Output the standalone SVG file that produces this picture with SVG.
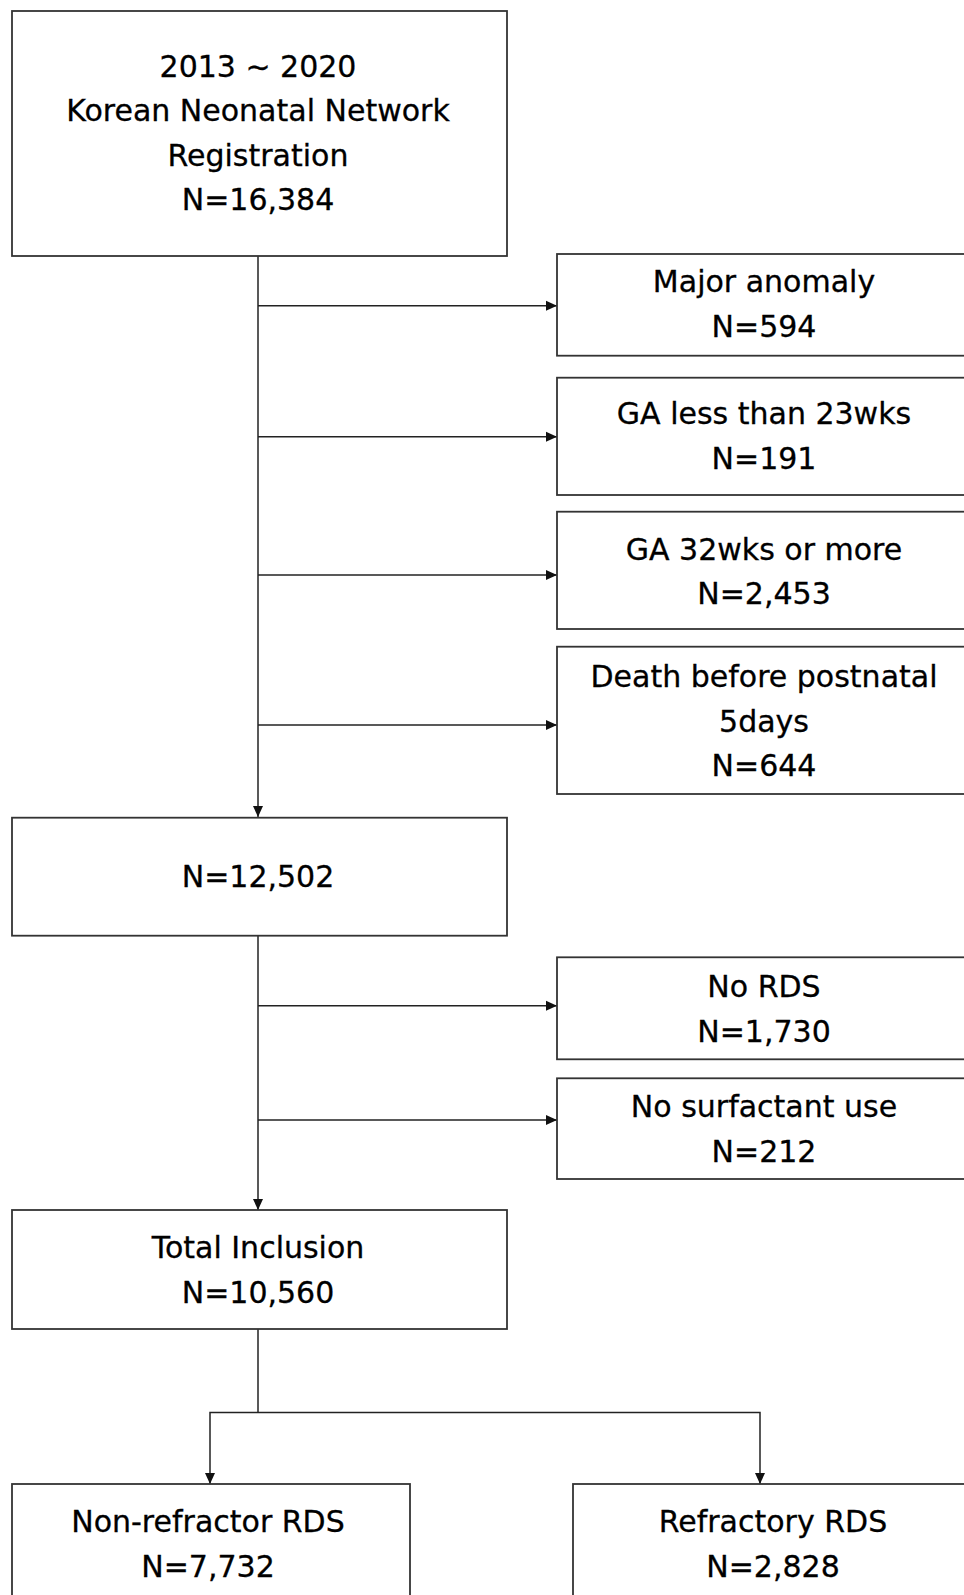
<svg xmlns="http://www.w3.org/2000/svg" width="964" height="1595" viewBox="0 0 964 1595">
<style>
.box{fill:#fff;stroke:#333;stroke-width:1.8}
.t{font-family:"DejaVu Sans","Liberation Sans",sans-serif;font-size:30px;fill:#000;text-anchor:middle;stroke:#000;stroke-width:0.3}
.ln{fill:none;stroke:#222;stroke-width:1.5}
</style>
<defs>
<marker id="ah" markerUnits="userSpaceOnUse" markerWidth="11" markerHeight="11" refX="11" refY="5.5" orient="auto">
<path d="M0,0.5 L11,5.5 L0,10.5 z" fill="#111"/>
</marker>
</defs>
<rect width="964" height="1595" fill="#fff"/>
<g id="connectors">
<path class="ln" d="M258,256 V817" marker-end="url(#ah)"/>
<path class="ln" d="M258,305.7 H557" marker-end="url(#ah)"/>
<path class="ln" d="M258,436.7 H557" marker-end="url(#ah)"/>
<path class="ln" d="M258,575 H557" marker-end="url(#ah)"/>
<path class="ln" d="M258,725 H557" marker-end="url(#ah)"/>
<path class="ln" d="M258,936 V1210" marker-end="url(#ah)"/>
<path class="ln" d="M258,1005.7 H557" marker-end="url(#ah)"/>
<path class="ln" d="M258,1120 H557" marker-end="url(#ah)"/>
<path class="ln" d="M258,1329 V1412.5"/>
<path class="ln" d="M210,1430 V1412.5 H760 V1430"/>
<path class="ln" d="M210,1430 V1484" marker-end="url(#ah)"/>
<path class="ln" d="M760,1430 V1484" marker-end="url(#ah)"/>
</g>
<g id="n_registry">
<rect class="box" x="12" y="11" width="495" height="245"/>
<text class="t" x="258"><tspan x="258" y="77">2013 ~ 2020</tspan><tspan x="258" y="121">Korean Neonatal Network</tspan><tspan x="258" y="166">Registration</tspan><tspan x="258" y="210">N=16,384</tspan></text>
</g>
<g id="n_anomaly">
<rect class="box" x="557" y="254" width="414" height="101.7"/>
<text class="t"><tspan x="764" y="291.7">Major anomaly</tspan><tspan x="764" y="337.3">N=594</tspan></text>
</g>
<g id="n_ga23">
<rect class="box" x="557" y="377.7" width="414" height="117.3"/>
<text class="t"><tspan x="764" y="424.3">GA less than 23wks</tspan><tspan x="764" y="469.3">N=191</tspan></text>
</g>
<g id="n_ga32">
<rect class="box" x="557" y="511.7" width="414" height="117.3"/>
<text class="t"><tspan x="764" y="560">GA 32wks or more</tspan><tspan x="764" y="604">N=2,453</tspan></text>
</g>
<g id="n_death">
<rect class="box" x="557" y="646.7" width="414" height="147.3"/>
<text class="t"><tspan x="764" y="686.7">Death before postnatal</tspan><tspan x="764" y="731.7">5days</tspan><tspan x="764" y="776">N=644</tspan></text>
</g>
<g id="n_12502">
<rect class="box" x="12" y="817.7" width="495" height="118"/>
<text class="t" x="258" y="887.3">N=12,502</text>
</g>
<g id="n_nords">
<rect class="box" x="557" y="957.3" width="414" height="102"/>
<text class="t"><tspan x="764" y="997.3">No RDS</tspan><tspan x="764" y="1041.7">N=1,730</tspan></text>
</g>
<g id="n_nosurf">
<rect class="box" x="557" y="1078.3" width="414" height="100.7"/>
<text class="t"><tspan x="764" y="1116.7">No surfactant use</tspan><tspan x="764" y="1161.7">N=212</tspan></text>
</g>
<g id="n_total">
<rect class="box" x="12" y="1210" width="495" height="119"/>
<text class="t"><tspan x="258" y="1258.3">Total Inclusion</tspan><tspan x="258" y="1303.3">N=10,560</tspan></text>
</g>
<g id="n_nonref">
<rect class="box" x="12" y="1484" width="398" height="130"/>
<text class="t"><tspan x="208" y="1531.7">Non-refractor RDS</tspan><tspan x="208" y="1576.7">N=7,732</tspan></text>
</g>
<g id="n_ref">
<rect class="box" x="573" y="1484" width="400" height="130"/>
<text class="t"><tspan x="773" y="1531.7">Refractory RDS</tspan><tspan x="773" y="1576.7">N=2,828</tspan></text>
</g>
</svg>
